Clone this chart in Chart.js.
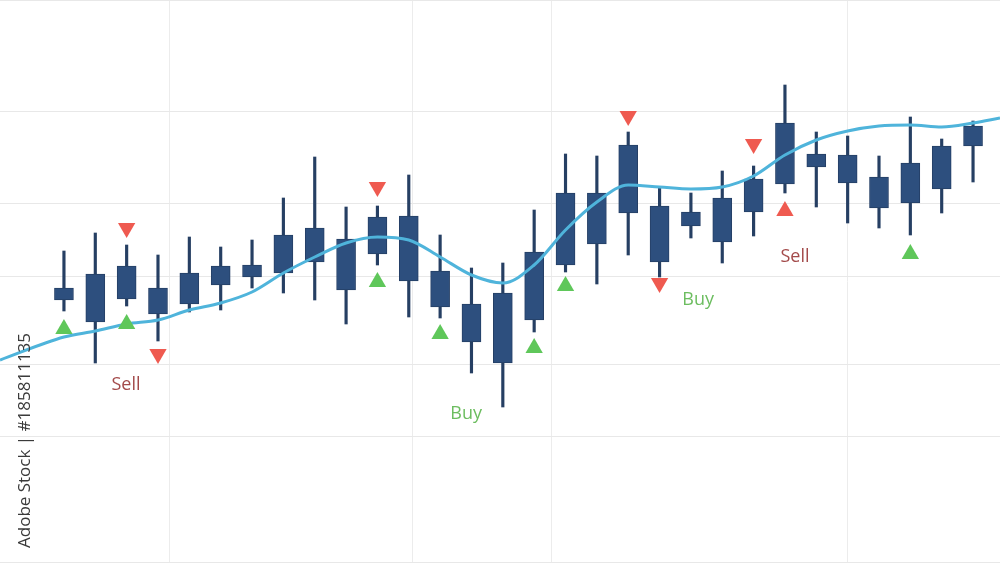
<!doctype html>
<html lang="en">
<head>
    <meta charset="utf-8">
    <title>Candlestick signals</title>
    <style>
        body { margin: 0; background: #ffffff; }
        #container { width: 1000px; height: 563px; }
    </style>
</head>
<body>
    <div id="container">
        <canvas id="myChart"></canvas>
    </div>

    <script src="https://cdn.jsdelivr.net/npm/chart.js@4.4.0/dist/chart.umd.min.js"></script>
    <script>
        // candles (index = session), prices
        let highs  = [31.2, 33.0, 31.8, 30.8, 32.6, 31.6, 32.3, 36.5, 40.6, 35.6, 35.7, 38.8, 32.8, 29.5, 30.0,
                      35.3, 40.9, 40.7, 43.1, 37.6, 37.0, 39.2, 39.7, 47.8, 43.1, 42.7, 40.7, 44.6, 42.4, 44.2];
        let opens  = [26.3, 24.1, 26.4, 27.5, 25.9, 27.8, 28.6, 29.0, 30.1, 32.4, 30.9, 34.7, 29.2, 25.9, 27.0,
                      24.3, 29.8, 31.9, 35.0, 35.7, 33.7, 32.1, 35.1, 37.9, 40.9, 40.8, 38.6, 36.0, 37.4, 41.7];
        let closes = [27.5, 28.9, 29.7, 24.9, 29.0, 29.7, 29.8, 32.8, 33.5, 27.3, 34.6, 28.2, 25.6, 22.1, 20.0,
                      31.1, 37.0, 37.0, 41.8, 30.1, 35.1, 36.5, 38.4, 44.0, 39.6, 38.0, 35.5, 40.0, 41.7, 43.7];
        let lows   = [25.2, 20.0, 25.7, 22.2, 25.1, 25.3, 27.5, 27.0, 26.3, 23.9, 29.8, 24.6, 24.5, 19.0, 15.6,
                      23.1, 29.1, 27.9, 30.8, 28.6, 32.5, 30.0, 32.7, 37.0, 35.6, 34.0, 33.5, 32.8, 35.0, 38.1];

        // moving average line
        let maX = [-2.04, 0, 1, 2, 3, 4, 5, 6, 7, 8, 9, 10, 11, 12, 13, 14, 15, 16, 17, 18, 19, 20, 21, 22, 23, 24, 25, 26, 27, 28, 29, 29.86];
        let maY = [20.3, 22.6, 23.2, 23.9, 24.3, 25.3, 26.0, 27.1, 29.0, 30.6, 32.0, 32.6, 32.3, 30.6, 28.8, 28.0,
                   29.8, 33.3, 36.1, 37.8, 37.6, 37.4, 37.6, 38.7, 40.8, 42.3, 43.2, 43.7, 43.8, 43.6, 44.0, 44.5];

        // signal markers
        let buyUpX = [0, 2, 10, 12, 15, 16, 27];
        let buyUpY = [23.4, 23.9, 28.1, 22.9, 21.5, 27.7, 30.9];
        let sellDownX = [2, 3, 10, 18, 19, 22];
        let sellDownY = [33.5, 20.9, 37.6, 44.7, 28.0, 41.9];
        let sellUpX = [23];
        let sellUpY = [35.2];

        // text labels
        let noteText = ['Sell', 'Buy', 'Buy', 'Sell'];
        let noteX = [1.98, 12.83, 20.23, 23.32];
        let noteY = [17.8, 14.9, 26.3, 30.6];
        let noteKind = ['sell', 'buy', 'buy', 'sell'];

        // grid positions
        let gridX = [3.38, 11.13, 15.54, 25.01];
        let gridY = [0.1, 12.7, 19.8, 28.6, 36.0, 45.1, 56.2];

        let wicks = highs.map((h, i) => ({ x: i, y: [lows[i], h] }));
        let bodies = opens.map((o, i) => ({ x: i, y: [Math.min(o, closes[i]), Math.max(o, closes[i])] }));
        let maData = maX.map((x, i) => ({ x: x, y: maY[i] }));
        let toPts = (xs, ys) => xs.map((x, i) => ({ x: x, y: ys[i] }));

        let notesPlugin = {
            id: 'notes',
            afterDatasetsDraw(chart) {
                let ctx = chart.ctx;
                let xs = chart.scales.x, ys = chart.scales.y;
                ctx.save();
                ctx.font = '18px "Open Sans", sans-serif';
                ctx.textAlign = 'center';
                ctx.textBaseline = 'middle';
                noteText.forEach((t, i) => {
                    ctx.fillStyle = noteKind[i] === 'buy' ? '#6cbd5f' : '#a34a4a';
                    ctx.fillText(t, xs.getPixelForValue(noteX[i]), ys.getPixelForValue(noteY[i]));
                });
                // vertical credit line at the left edge
                ctx.translate(30, 548);
                ctx.rotate(-Math.PI / 2);
                ctx.textAlign = 'left';
                ctx.textBaseline = 'alphabetic';
                ctx.font = '17px "Open Sans", sans-serif';
                ctx.fillStyle = '#3a3a3a';
                ctx.fillText('Adobe Stock | #185811135', 0, 0);
                ctx.restore();
            }
        };

        window.onload = function () {
            let ctx = document.getElementById('myChart').getContext('2d');
            new Chart(ctx, {
                type: 'bar',
                data: {
                    datasets: [
                        {
                            type: 'line',
                            data: maData,
                            borderColor: '#4fb4db',
                            borderWidth: 3,
                            pointRadius: 0,
                            tension: 0.4,
                            cubicInterpolationMode: 'monotone',
                            order: 1
                        },
                        {
                            type: 'scatter',
                            data: toPts(buyUpX, buyUpY),
                            pointStyle: 'triangle',
                            pointRadius: 10,
                            backgroundColor: '#5fc75a',
                            borderWidth: 0,
                            order: 0
                        },
                        {
                            type: 'scatter',
                            data: toPts(sellDownX, sellDownY),
                            pointStyle: 'triangle',
                            rotation: 180,
                            pointRadius: 10,
                            backgroundColor: '#ef5a50',
                            borderWidth: 0,
                            order: 0
                        },
                        {
                            type: 'scatter',
                            data: toPts(sellUpX, sellUpY),
                            pointStyle: 'triangle',
                            pointRadius: 10,
                            backgroundColor: '#ef5a50',
                            borderWidth: 0,
                            order: 0
                        },
                        {
                            data: bodies,
                            backgroundColor: '#2d4f7e',
                            borderColor: '#253f66',
                            borderWidth: 1,
                            borderSkipped: false,
                            barThickness: 19,
                            grouped: false,
                            order: 2
                        },
                        {
                            data: wicks,
                            backgroundColor: '#263f63',
                            barThickness: 2.5,
                            grouped: false,
                            order: 3
                        }
                    ]
                },
                options: {
                    responsive: true,
                    maintainAspectRatio: false,
                    animation: false,
                    layout: { padding: 0, autoPadding: false },
                    plugins: {
                        legend: { display: false },
                        tooltip: { enabled: false }
                    },
                    scales: {
                        x: {
                            type: 'linear',
                            min: -2.04,
                            max: 29.86,
                            offset: false,
                            afterBuildTicks: s => { s.ticks = gridX.map(v => ({ value: v })); },
                            ticks: { display: false },
                            grid: { color: '#ececec', drawTicks: false, offset: false },
                            border: { display: false }
                        },
                        y: {
                            min: 0,
                            max: 56.3,
                            afterBuildTicks: s => { s.ticks = gridY.map(v => ({ value: v })); },
                            ticks: { display: false },
                            grid: { color: '#e8e8e8', drawTicks: false },
                            border: { display: false }
                        }
                    }
                },
                plugins: [notesPlugin]
            });
        };
    </script>
</body>
</html>
